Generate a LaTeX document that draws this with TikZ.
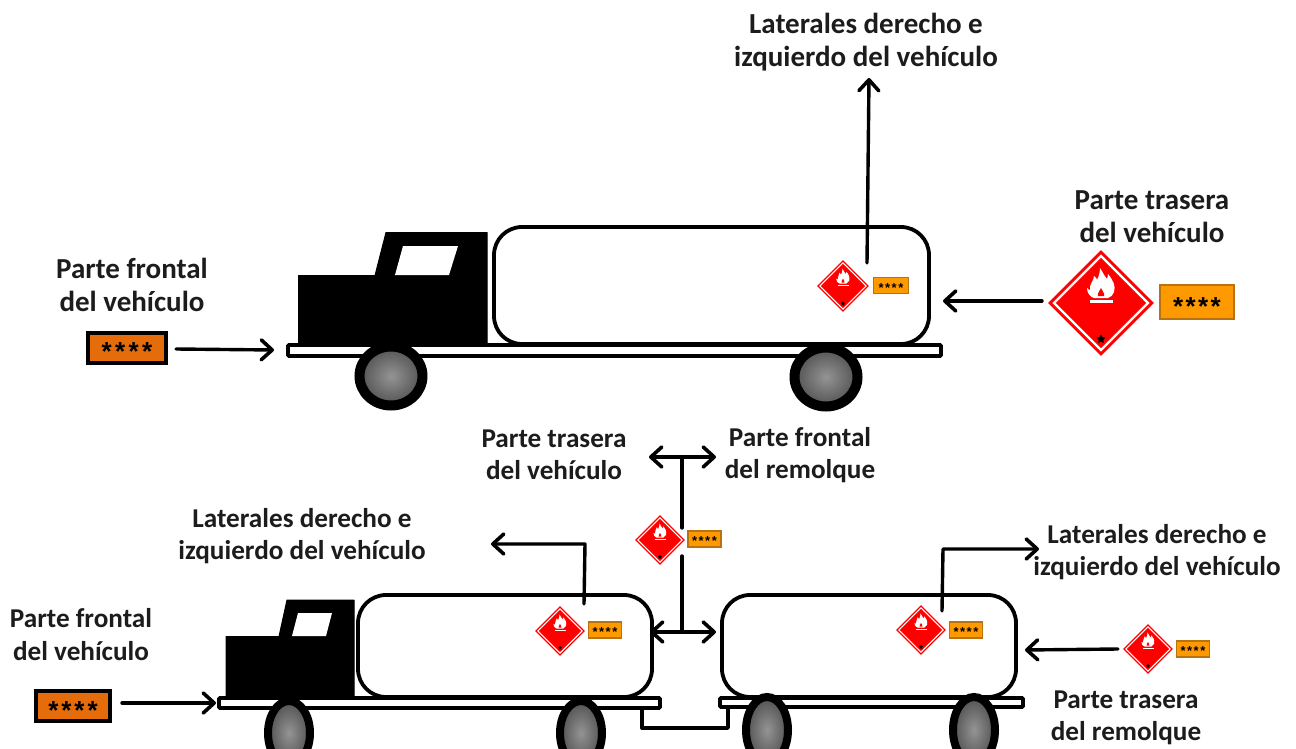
\documentclass[tikz,border=0pt]{standalone}
\usepackage{fontspec}
\setmainfont{Carlito}
\newfontfamily\starface{Liberation Sans}
\usetikzlibrary{arrows.meta,shapes.geometric}

\definecolor{amberplate}{HTML}{FF9900}
\definecolor{amberedge}{HTML}{B8720F}
\definecolor{frontplate}{HTML}{E46C0A}
\definecolor{hazred}{HTML}{FF0000}
\definecolor{inkgrey}{HTML}{1C1C1C}

\tikzset{
  x=1pt, y=-1pt,
  caption/.style={font=\fontsize{29}{33}\selectfont\bfseries, text=inkgrey, align=center, inner sep=0pt},
  smallcaption/.style={font=\fontsize{27.2}{32.5}\selectfont\bfseries, text=inkgrey, align=center, inner sep=0pt},
  link/.style={draw=black, line width=3.4pt, line cap=round, line join=round},
  tip/.style={-{Straight Barb[length=11pt,width=20pt,line width=3.6pt,round]}},
  bothtips/.style={{Straight Barb[length=11pt,width=20pt,line width=3.6pt,round]}-{Straight Barb[length=11pt,width=20pt,line width=3.6pt,round]}},
  tank/.style={draw=black, fill=white, line width=3.8pt, rounded corners=28pt},
  bed/.style={draw=black, fill=white, line width=3.8pt, rounded corners=1pt},
  cabin/.style={fill=black, draw=black, line width=1pt, line join=round},
  wheel/.style={ellipse, draw=black, inner sep=0pt, inner color=black!42, outer color=black!68},
  amber/.style={rectangle, draw=amberedge, fill=amberplate, line width=1.5pt, inner sep=0pt},
  front/.style={rectangle, draw=black, fill=frontplate, line width=4pt, inner sep=0pt},
  hazard/.style={diamond, aspect=1, fill=hazred, inner sep=0pt},
}

% Five-pointed stars printed on an orange plate: #1 size in pt, #2 gap in pt
\newcommand{\platestars}[2]{{\starface\bfseries\fontsize{#1}{#1}\selectfont
  \smash{\raisebox{-.5em}{*\kern#2pt*\kern#2pt*\kern#2pt*}}}}

% Class 3 diamond: #1 name, #2 x, #3 y, #4 half diagonal
\newcommand{\placard}[4]{%
  \pgfmathsetmacro{\ps}{#4/53}%
  \pgfmathsetmacro{\pw}{max(0.9,2.2*\ps)}%
  \node[hazard, minimum width=#4*2pt, minimum height=#4*2pt] (#1) at (#2,#3) {};
  \begin{scope}[shift={(#2,#3)}, scale=\ps, x=1pt, y=-1pt]
    \draw[white, line width=\pw pt, line join=miter] (-47,0) -- (0,-47) -- (47,0) -- (0,47) -- cycle;
    \fill[white] (-1,-35) .. controls (3,-29) and (3,-27) .. (6,-24)
      .. controls (7,-27) and (7,-28) .. (7,-29)
      .. controls (12,-23) and (15,-17) .. (13,-11)
      .. controls (12,-8) and (10,-6) .. (7,-5) -- (-7,-5)
      .. controls (-11,-6) and (-14,-10) .. (-14,-15)
      .. controls (-13,-14) and (-12,-13) .. (-11,-13)
      .. controls (-12,-19) and (-7,-22) .. (-7,-27)
      .. controls (-5,-26) and (-4,-24) .. (-4,-23)
      .. controls (-2,-27) and (-1,-31) .. (-1,-35) -- cycle;
    \fill[hazred] (0,-15) .. controls (1,-12) and (4,-10) .. (3,-7) -- (-3,-7)
      .. controls (-4,-10) and (-1,-12) .. (0,-15) -- cycle;
    \fill[white] (-11,-3) rectangle (12,0);
    \fill[black] (0,31) -- (1.4,34) -- (4.5,34.6) -- (2.3,37) -- (2.8,40)
      -- (0,38.6) -- (-2.8,40) -- (-2.3,37) -- (-4.5,34.6) -- (-1.4,34) -- cycle;
  \end{scope}}

\begin{document}
\begin{tikzpicture}
\useasboundingbox (0,0) rectangle (1296,749);
\fill[white] (0,0) rectangle (1296,749);
\clip (0,0) rectangle (1296,749);

% Tanker lorry, upper row
\draw[tank] (494,227) rectangle (929,344);
\draw[cabin] (298.5,275.5) -- (375,275.5) -- (386,232.5) -- (487,232.5) -- (487,345) -- (298.5,345) -- cycle;
\fill[white] (395,275) -- (403,246) -- (458,246) -- (449,275) -- cycle;
\draw[bed] (288,345) rectangle (941,356);
\node[wheel, line width=10pt, minimum width=63pt, minimum height=59pt] (w1) at (391,376) {};
\node[wheel, line width=10pt, minimum width=63pt, minimum height=59pt] (w2) at (826,377) {};

% Lorry with trailer, lower row
\draw[tank] (358,595) rectangle (652,697);
\draw[cabin] (226,636.5) -- (279,636.5) -- (287,600) -- (354,600) -- (354,697) -- (226,697) -- cycle;
\fill[white] (292,636) -- (298,613) -- (332,613) -- (326,636) -- cycle;
\draw[bed] (219,698) rectangle (660,708);
\draw[tank] (722,595) rectangle (1016,697);
\draw[bed] (720,698) rectangle (1023,707);
\coordinate (hitchA) at (642,708);
\coordinate (hitchB) at (642,728);
\coordinate (hitchC) at (728,728);
\coordinate (hitchD) at (728,708);
\draw[link] (hitchA) -- (hitchB) -- (hitchC) -- (hitchD);
\node[wheel, line width=8pt, minimum width=42pt, minimum height=64pt] (w3) at (289,733) {};
\node[wheel, line width=8pt, minimum width=42pt, minimum height=64pt] (w4) at (581,733) {};
\node[wheel, line width=8pt, minimum width=42pt, minimum height=66pt] (w5) at (767,730) {};
\node[wheel, line width=8pt, minimum width=42pt, minimum height=66pt] (w6) at (974,730) {};

% Placards and number plates
\placard{pA}{843}{286}{26}
\node[amber, minimum width=35pt, minimum height=16pt] (oA) at (891,285.5) {\platestars{13}{1.5}};
\placard{pB}{1101}{303}{53}
\node[amber, minimum width=74pt, minimum height=34pt] (oB) at (1197,302) {\platestars{26}{2.4}};
\placard{pC}{660}{540}{25}
\node[amber, minimum width=33pt, minimum height=16pt] (oC) at (704.5,539) {\platestars{13}{1.5}};
\placard{pD}{560}{631}{25}
\node[amber, minimum width=33pt, minimum height=16pt] (oD) at (605,630) {\platestars{13}{1.5}};
\placard{pE}{921}{630}{25}
\node[amber, minimum width=33pt, minimum height=16pt] (oE) at (966,630) {\platestars{13}{1.5}};
\placard{pF}{1148}{649}{25}
\node[amber, minimum width=33pt, minimum height=16pt] (oF) at (1193,649) {\platestars{13}{1.5}};
\node[front, minimum width=78pt, minimum height=30pt] (fA) at (127,347.5) {\platestars{26}{3.4}};
\node[front, minimum width=74pt, minimum height=30pt] (fB) at (73,706) {\platestars{26}{3}};

% Captions
\node[caption] (t1) at (866,42) {Laterales derecho e\\izquierdo del vehículo};
\node[caption] (t2) at (1152,217) {Parte trasera\\del vehículo};
\node[caption] (t3) at (132,284.5) {Parte frontal\\del vehículo};
\node[smallcaption] (t4) at (554,455) {Parte trasera\\del vehículo};
\node[smallcaption] (t5) at (800,455) {Parte frontal\\del remolque};
\node[smallcaption] (t6) at (302,536) {Laterales derecho e\\izquierdo del vehículo};
\node[smallcaption] (t7) at (1157,552) {Laterales derecho e\\izquierdo del vehículo};
\node[smallcaption] (t8) at (81,634.5) {Parte frontal\\del vehículo};
\node[smallcaption] (t9) at (1126,718) {Parte trasera\\del remolque};

% Free ends of the pointers
\coordinate (a1s) at (176,349);
\coordinate (a1e) at (274,350);
\coordinate (a2s) at (867,263);
\coordinate (a2e) at (869,78);
\coordinate (a3s) at (1042,301);
\coordinate (a3e) at (943,301);
\coordinate (a4s) at (122,703);
\coordinate (a4e) at (216,703);
\coordinate (a5s) at (584,604);
\coordinate (a5k) at (585,544);
\coordinate (a5e) at (491,544);
\coordinate (a6s) at (942,611);
\coordinate (a6k) at (943,549);
\coordinate (a6e) at (1039,549);
\coordinate (a7s) at (1118,649);
\coordinate (a7e) at (1025,650);
\coordinate (d1l) at (649,457);
\coordinate (d1r) at (716,457);
\coordinate (d1m) at (682,457);
\coordinate (d1b) at (682,528);
\coordinate (d2t) at (682,556);
\coordinate (d2m) at (682,632);
\coordinate (d2l) at (650,632);
\coordinate (d2r) at (716,632);

% Pointers
\draw[link, tip] (a1s) -- (a1e);
\draw[link, tip] (a2s) -- (a2e);
\draw[link, tip] (a3s) -- (a3e);
\draw[link, tip] (a4s) -- (a4e);
\draw[link, tip] (a5s) -- (a5k) -- (a5e);
\draw[link, tip] (a6s) -- (a6k) -- (a6e);
\draw[link, tip] (a7s) -- (a7e);
\draw[link, bothtips] (d1l) -- (d1r);
\draw[link] (d1m) -- (d1b);
\draw[link] (d2t) -- (d2m);
\draw[link, bothtips] (d2l) -- (d2r);
\end{tikzpicture}
\end{document}
